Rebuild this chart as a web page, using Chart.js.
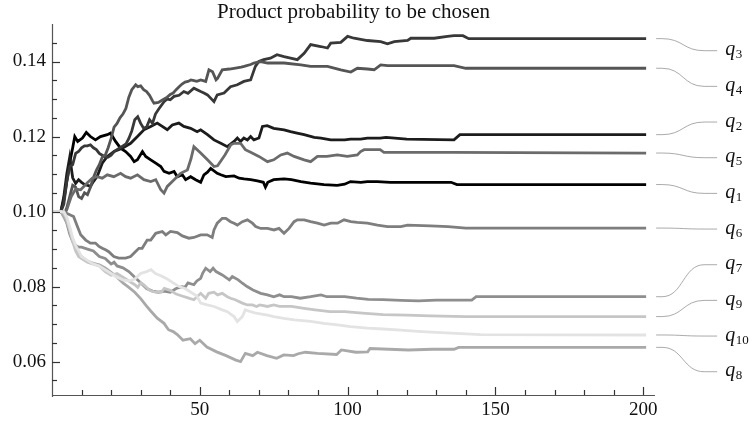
<!DOCTYPE html>
<html>
<head>
<meta charset="utf-8">
<script src="https://cdn.jsdelivr.net/npm/chart.js@4.4.0/dist/chart.umd.min.js"></script>
<style>
  html, body { margin: 0; padding: 0; background: #fff; }
  #wrap { width: 752px; height: 423px; }
</style>
</head>
<body>
<div id="wrap"><canvas id="probChart" width="752" height="423"></canvas></div>
<script>
// [step, probability]
const q1 = [[0,.100],[3,.100],[4,.1031],[5,.108],[6,.113],[7,.117],[7.7,.1200],[8.7,.1187],[10.3,.1196],[11.6,.1211],[13,.1200],[14.7,.1191],[16.4,.1200],[18.7,.1205],[19.8,.1209],[21.5,.1187],[23.2,.1169],[24.9,.1160],[26.6,.1147],[27.8,.1133],[28.9,.1138],[30.6,.1160],[31.7,.1147],[33.4,.1138],[35.1,.1129],[36.8,.1120],[37.9,.1107],[39.6,.1102],[41.3,.1107],[42.4,.1093],[44.1,.1098],[45.2,.1085],[46.9,.1093],[48.6,.1085],[50.3,.1078],[51.4,.1098],[52.6,.1105],[53.7,.1115],[55.9,.1102],[57.1,.1098],[58.8,.1093],[61.6,.1095],[63.3,.1089],[65,.1087],[67.2,.1085],[69.5,.1082],[71.5,.1078],[72.2,.1065],[73,.1078],[75,.1085],[78.5,.1087],[81,.1085],[84.2,.1080],[87.5,.1076],[92,.1072],[96.5,.1070],[99,.1073],[101,.1080],[104.5,.1078],[106.7,.1080],[110,.1080],[114.5,.1078],[135,.1078],[137,.1072],[201,.1072]];
const q2 = [[0,.100],[3,.100],[4,.104],[5,.110],[6,.1145],[7,.109],[8,.1075],[9,.1085],[10,.1078],[11,.1072],[12,.1070],[13,.1067],[14,.108],[15.3,.1094],[17,.1129],[18.7,.1147],[21,.1160],[23.8,.1169],[26.6,.1182],[28.9,.1200],[31.1,.1218],[33.4,.1227],[35.6,.1236],[37.3,.1227],[39,.1218],[40.7,.1231],[42.9,.1236],[44.6,.1227],[46.9,.1222],[49.1,.1213],[50.3,.1218],[52.6,.1205],[54.8,.1191],[57.1,.1182],[59.3,.1173],[61.6,.1187],[62.7,.1196],[63.8,.1187],[64.9,.1196],[66.1,.1191],[67.2,.1200],[68.3,.1191],[70,.1196],[71.2,.1227],[72.8,.1229],[75,.1222],[78.5,.1218],[80.7,.1213],[82.9,.1209],[85.3,.1205],[88.7,.1198],[91,.1196],[94.3,.1191],[99,.1191],[101,.1193],[104.4,.1193],[106.7,.1196],[111,.1196],[113,.1198],[120,.1193],[136,.1191],[138,.1205],[201,.1205]];
const q3 = [[0,.100],[3,.100],[4,.102],[5,.108],[6,.112],[7,.1125],[8,.1155],[9,.116],[10,.117],[11,.1175],[12,.1175],[13,.1178],[14,.117],[15,.1165],[16,.1155],[17,.115],[18,.1145],[19,.1145],[20,.115],[21,.116],[22,.1165],[23,.117],[24,.1175],[25,.118],[26,.1195],[27,.1215],[28,.1245],[29,.1253],[30,.1235],[31,.1222],[32,.1225],[33,.1245],[34,.1235],[35,.126],[36,.1272],[37.9,.1293],[39,.130],[40,.1298],[41.3,.1307],[43,.131],[44.6,.132],[46,.1315],[48,.1329],[50.3,.1320],[51.4,.1316],[52.6,.1311],[54.8,.1293],[55.9,.1311],[58.2,.1316],[60.4,.1333],[62.7,.1338],[64.9,.1347],[67.2,.1351],[68.8,.1387],[70,.1400],[71.6,.1405],[73.9,.1409],[76.1,.1418],[78.5,.1413],[80.7,.1409],[83,.1405],[85.3,.1422],[87.5,.1445],[90.9,.1440],[93.2,.1436],[94.3,.1449],[97.7,.1451],[100,.1467],[102.2,.1462],[106.7,.1456],[111.2,.1453],[113.5,.1447],[115.8,.1453],[120.3,.1456],[121.4,.1462],[129.3,.1462],[133.8,.1467],[136,.1469],[139,.1469],[141,.1461],[201,.1461]];
const q4 = [[0,.100],[3,.100],[4,.099],[5,.101],[6,.104],[7,.107],[8,.1065],[9,.104],[10,.1035],[11,.105],[12,.1045],[13,.1065],[14,.109],[15,.111],[16,.1125],[17,.1145],[18,.115],[19,.117],[20,.1195],[21,.1225],[22,.1235],[23,.125],[24,.126],[25,.1275],[26,.1305],[27,.1325],[28.3,.1338],[29,.1333],[30,.1335],[31,.1325],[32,.132],[33,.131],[34,.1295],[34.5,.1289],[36,.1291],[37.5,.1298],[39,.1305],[40,.1312],[41,.1316],[42,.1325],[43,.1333],[44,.134],[45,.1345],[46,.1347],[47,.1351],[48,.1349],[49,.1347],[50.3,.1351],[52,.1347],[53.1,.1378],[54.3,.1373],[55.5,.1351],[56,.1355],[57.6,.1378],[60,.1380],[61.6,.1382],[64,.1385],[65,.1387],[67.2,.1392],[68.3,.1396],[70.6,.1400],[72.9,.1396],[78.5,.1396],[84.2,.1391],[87.5,.1387],[93.2,.1387],[97.7,.1378],[101.1,.1372],[103.3,.1382],[106.7,.1380],[109,.1378],[111.2,.1391],[113.5,.1389],[136,.1389],[140,.1382],[201,.1382]];
const q5 = [[0,.100],[3,.100],[4,.099],[5,.1005],[6.5,.104],[8,.106],[9.7,.1058],[11.9,.1076],[13.6,.1089],[15.3,.1093],[17,.1089],[18.7,.1098],[20.9,.1093],[23.2,.1102],[24.9,.1093],[26.6,.1089],[28.9,.1098],[31.1,.1085],[33.4,.1080],[35.1,.1085],[36.8,.1058],[37.9,.1049],[39,.1067],[41.3,.1085],[43.5,.1102],[45.8,.1111],[47,.1140],[48,.1173],[50.3,.1156],[52.6,.1138],[54.8,.1120],[56,.1122],[58.5,.1151],[60.5,.1178],[61.6,.1182],[63.8,.1182],[65.4,.1165],[67.2,.1158],[70,.1147],[72.9,.1133],[75,.1138],[77.4,.1151],[79.6,.1156],[81.9,.1147],[85.3,.1138],[87.5,.1133],[89.8,.1147],[93,.1147],[96.5,.1151],[99.9,.1147],[103.3,.1151],[104.4,.1160],[105.6,.1165],[111,.1165],[112.3,.1158],[135,.1158],[201,.1156]];
const q6 = [[0,.100],[4,.100],[5.1,.0995],[7.3,.0987],[8.4,.0964],[9.7,.0938],[11.4,.0924],[13,.0916],[14.7,.0916],[15.9,.0907],[17,.0902],[18.1,.0898],[19.2,.0893],[20.9,.0880],[22.6,.0876],[24.9,.0876],[26.6,.0880],[28.2,.0893],[29.4,.0902],[30.5,.0902],[32.2,.0924],[33.4,.0924],[35.1,.0942],[37.3,.0947],[38.5,.0938],[40.1,.0947],[42.4,.0944],[44.1,.0935],[46.3,.0929],[48,.0931],[50.3,.0938],[52.5,.0938],[54.2,.0931],[54.8,.0951],[55.9,.0969],[57.6,.0982],[58.8,.0982],[60.4,.0973],[61.6,.0969],[62.7,.0964],[64.4,.0973],[66.1,.0978],[67.8,.0969],[68.9,.0960],[70.6,.0955],[72.9,.0955],[75.1,.0951],[76.8,.0955],[78.5,.0942],[80.2,.0955],[81.9,.0973],[83,.0978],[85.3,.0978],[87.5,.0973],[89.8,.0969],[92.1,.0964],[94.3,.0969],[96.6,.0969],[98.8,.0978],[101.1,.0973],[103.3,.0971],[106.7,.0969],[110.1,.0964],[113.5,.0960],[118,.0960],[120.3,.0964],[128,.0962],[134,.0960],[140,.0956],[201,.0956]];
const q7 = [[0,.100],[3,.100],[4,.099],[5,.097],[6,.094],[7,.092],[8,.091],[9,.0905],[10,.0905],[12,.0900],[14,.0895],[16,.0880],[18,.0875],[20,.0860],[21,.0865],[22,.0855],[24,.0850],[26,.0840],[28,.0825],[30,.0810],[32,.0795],[34,.0788],[36,.0785],[38,.0788],[40,.0785],[42,.0795],[44,.0800],[45,.0798],[46,.0810],[48,.0805],[49,.0815],[50.3,.0822],[51,.0836],[52,.0849],[53.5,.0840],[54.5,.0849],[55.5,.0840],[57.6,.0831],[60,.0818],[61,.0827],[63,.0818],[64.4,.0809],[66,.0800],[68,.0791],[70.6,.0782],[72.9,.0778],[75,.0773],[77,.0778],[78.5,.0773],[81,.0773],[84,.0769],[87.5,.0773],[91,.0778],[93,.0773],[99,.0773],[103,.0769],[107,.0766],[112,.0765],[118,.0763],[124,.0762],[130,.0764],[142,.0764],[143.5,.0773],[201,.0773]];
const q8 = [[0,.100],[3,.100],[4,.0985],[5,.097],[6,.095],[7,.0925],[8,.0905],[9,.089],[10,.088],[12,.0868],[14,.0862],[16,.0858],[18,.0850],[20,.0838],[22,.0825],[24,.0810],[26,.0798],[28,.0785],[30,.0768],[32,.0748],[33.4,.0735],[35.6,.0716],[37.9,.0702],[39.4,.0685],[41,.0680],[42.4,.0672],[44.3,.0657],[46.8,.0661],[48.4,.0648],[50,.0657],[52.4,.0639],[55.7,.0626],[58.9,.0616],[62.2,.0604],[63.8,.0600],[65.4,.0622],[67.9,.0616],[69.5,.0625],[72.7,.0616],[76,.0609],[78.4,.0618],[81.7,.0616],[83.3,.0621],[85.7,.0625],[89.8,.0622],[96.3,.0619],[97.9,.0631],[102.8,.0625],[106.8,.0626],[107.6,.0635],[120.6,.0631],[128.7,.0633],[136,.0633],[137.6,.0638],[201,.0638]];
const q9 = [[0,.100],[3,.100],[4,.0995],[5,.098],[6,.095],[7,.092],[8,.0895],[9,.088],[10,.0875],[12,.0865],[14,.0860],[16,.0855],[18,.0840],[20,.0830],[22,.0835],[24,.0825],[26,.0815],[28,.0805],[29,.0798],[30,.0810],[31,.0805],[33,.0790],[35,.0785],[37,.0785],[38,.0795],[40,.0790],[42,.0780],[44,.0775],[46,.0770],[48,.0765],[50.3,.0782],[52,.0769],[53,.0782],[54.8,.0785],[56,.0778],[57.6,.0782],[59.3,.0773],[60.4,.0769],[62,.0765],[64.4,.0756],[66.1,.0751],[67.8,.0751],[69.2,.0747],[70.3,.0751],[72.9,.0747],[75,.0751],[77,.0747],[81,.0747],[85.3,.0742],[89,.0738],[94,.0733],[99,.0733],[105,.0729],[112,.0725],[120,.0724],[128,.0722],[140,.0720],[201,.0720]];
const q10 = [[0,.100],[4,.100],[5,.0985],[6,.096],[7,.093],[8,.091],[9,.0895],[10,.088],[12,.087],[14,.086],[16,.0855],[18,.0845],[20,.0835],[22,.0825],[24,.0818],[26,.0815],[28,.0820],[30,.0835],[32,.0840],[33.5,.0845],[35,.0835],[37,.0828],[39,.0820],[41,.0810],[43,.0800],[45,.0795],[47,.0785],[49,.0775],[50.3,.0756],[52.5,.0751],[54.8,.0747],[57.6,.0738],[59.3,.0733],[61.6,.0720],[62.7,.0707],[64.4,.0720],[65.4,.0738],[67.2,.0733],[69,.0729],[72.9,.0724],[75,.0720],[78.5,.0715],[82,.0711],[87.5,.0707],[92,.0702],[96.6,.0698],[101,.0693],[106.7,.0689],[112,.0687],[118,.0684],[125,.0680],[135,.0676],[145,.0672],[201,.0671]];

const seriesNames = ['q1','q2','q3','q4','q5','q6','q7','q8','q9','q10'];
const seriesData = [q1, q2, q3, q4, q5, q6, q7, q8, q9, q10];
const grays = ['#000000','#1c1c1c','#383838','#555555','#6b6b6b','#7e7e7e','#8e8e8e','#a9a9a9','#c6c6c6','#e3e3e3'];
// labels at the right, top to bottom
const labelOrder = ['q3','q4','q2','q5','q1','q6','q7','q9','q10','q8'];
const yLabelTicks = [0.06, 0.08, 0.10, 0.12, 0.14];
const xLabelTicks = [50, 100, 150, 200];
const titleText = 'Product probability to be chosen';

const serif = '"Liberation Serif", "DejaVu Serif", serif';

const datasets = seriesData.map((pts, i) => ({
    label: seriesNames[i],
    data: pts.map(p => ({ x: p[0], y: p[1] })),
    borderColor: grays[i],
    borderWidth: 2.8,
    pointRadius: 0,
    tension: 0,
    fill: false,
    order: seriesData.length - i   // later series on top
}));

// axes with inside ticks, title and the labels with their connectors
const mmaPlugin = {
    id: 'mmaPlugin',
    afterDraw(chart) {
        const ctx = chart.ctx;
        const area = chart.chartArea;
        const xs = chart.scales.x;
        const ys = chart.scales.y;
        const ax = Math.round(area.left);
        const ay = Math.round(area.bottom);
        ctx.save();

        // axes
        ctx.strokeStyle = '#555';
        ctx.lineWidth = 1.2;
        ctx.beginPath();
        ctx.moveTo(ax + 0.5, area.top);
        ctx.lineTo(ax + 0.5, ay + 2);
        ctx.moveTo(ax, ay + 0.5);
        ctx.lineTo(area.right, ay + 0.5);
        ctx.stroke();

        // inside tick marks: y every 0.005 (long every 0.02), x every 10 (long every 50)
        ctx.lineWidth = 1.2;
        ctx.strokeStyle = '#333';
        for (let k = 11; k <= 29; k++) {
            const py = Math.round(ys.getPixelForValue(k * 0.005)) + 0.5;
            const len = k % 4 === 0 ? 8 : 5;
            ctx.beginPath();
            ctx.moveTo(ax, py);
            ctx.lineTo(ax + len, py);
            ctx.stroke();
        }
        for (let k = 1; k <= 20; k++) {
            const px = Math.round(xs.getPixelForValue(k * 10)) + 0.5;
            const len = k % 5 === 0 ? 8 : 5;
            ctx.beginPath();
            ctx.moveTo(px, ay);
            ctx.lineTo(px, ay - len);
            ctx.stroke();
        }

        // title
        ctx.fillStyle = '#111';
        ctx.font = '21px ' + serif;
        ctx.textAlign = 'center';
        ctx.textBaseline = 'alphabetic';
        ctx.fillText(titleText, (area.left + area.right) / 2, 18);

        // series labels
        const firstY = 50.7, gap = 35.67;
        labelOrder.forEach((name, k) => {
            const idx = seriesNames.indexOf(name);
            const pts = seriesData[idx];
            const last = pts[pts.length - 1];
            const y0 = ys.getPixelForValue(last[1]);
            const x0 = xs.getPixelForValue(last[0]) + 10;
            const y1 = firstY + k * gap;
            ctx.strokeStyle = '#a0a0a0';
            ctx.lineWidth = 0.9;
            ctx.beginPath();
            ctx.moveTo(x0, y0);
            ctx.lineTo(x0 + 6, y0);
            ctx.bezierCurveTo(x0 + 27, y0, x0 + 27, y1, x0 + 48, y1);
            ctx.lineTo(x0 + 61, y1);
            ctx.stroke();

            ctx.fillStyle = '#111';
            ctx.textAlign = 'left';
            ctx.font = 'italic 20px ' + serif;
            const qx = x0 + 69;
            ctx.fillText('q', qx, y1 + 4.5);
            const qw = ctx.measureText('q').width;
            ctx.font = '13px ' + serif;
            ctx.fillText(name.slice(1), qx + qw + 0.5, y1 + 7.5);
        });
        ctx.restore();
    }
};

new Chart(document.getElementById('probChart'), {
    type: 'line',
    data: { datasets: datasets },
    options: {
        responsive: false,
        animation: false,
        devicePixelRatio: 1,
        layout: { padding: { top: 24, right: 97, left: 0, bottom: 0 } },
        plugins: {
            legend: { display: false },
            tooltip: { enabled: false },
            title: { display: false }
        },
        scales: {
            x: {
                type: 'linear',
                min: 0,
                max: 204,
                grid: { display: false, drawTicks: false },
                border: { display: false },
                ticks: {
                    stepSize: 10,
                    includeBounds: false,
                    autoSkip: false,
                    maxRotation: 0,
                    padding: 4,
                    color: '#111',
                    font: { family: serif, size: 19 },
                    callback: v => xLabelTicks.includes(v) ? String(v) : ''
                },
                afterFit: s => { s.height = 28; }
            },
            y: {
                type: 'linear',
                min: 0.0511,
                max: 0.150,
                grid: { display: false, drawTicks: false },
                border: { display: false },
                ticks: {
                    stepSize: 0.005,
                    includeBounds: false,
                    autoSkip: false,
                    padding: 6,
                    color: '#111',
                    font: { family: serif, size: 19 },
                    callback: v => yLabelTicks.some(t => Math.abs(t - v) < 1e-6) ? v.toFixed(2) : ''
                },
                afterFit: s => { s.width = 52; }
            }
        }
    },
    plugins: [mmaPlugin]
});
</script>
</body>
</html>
